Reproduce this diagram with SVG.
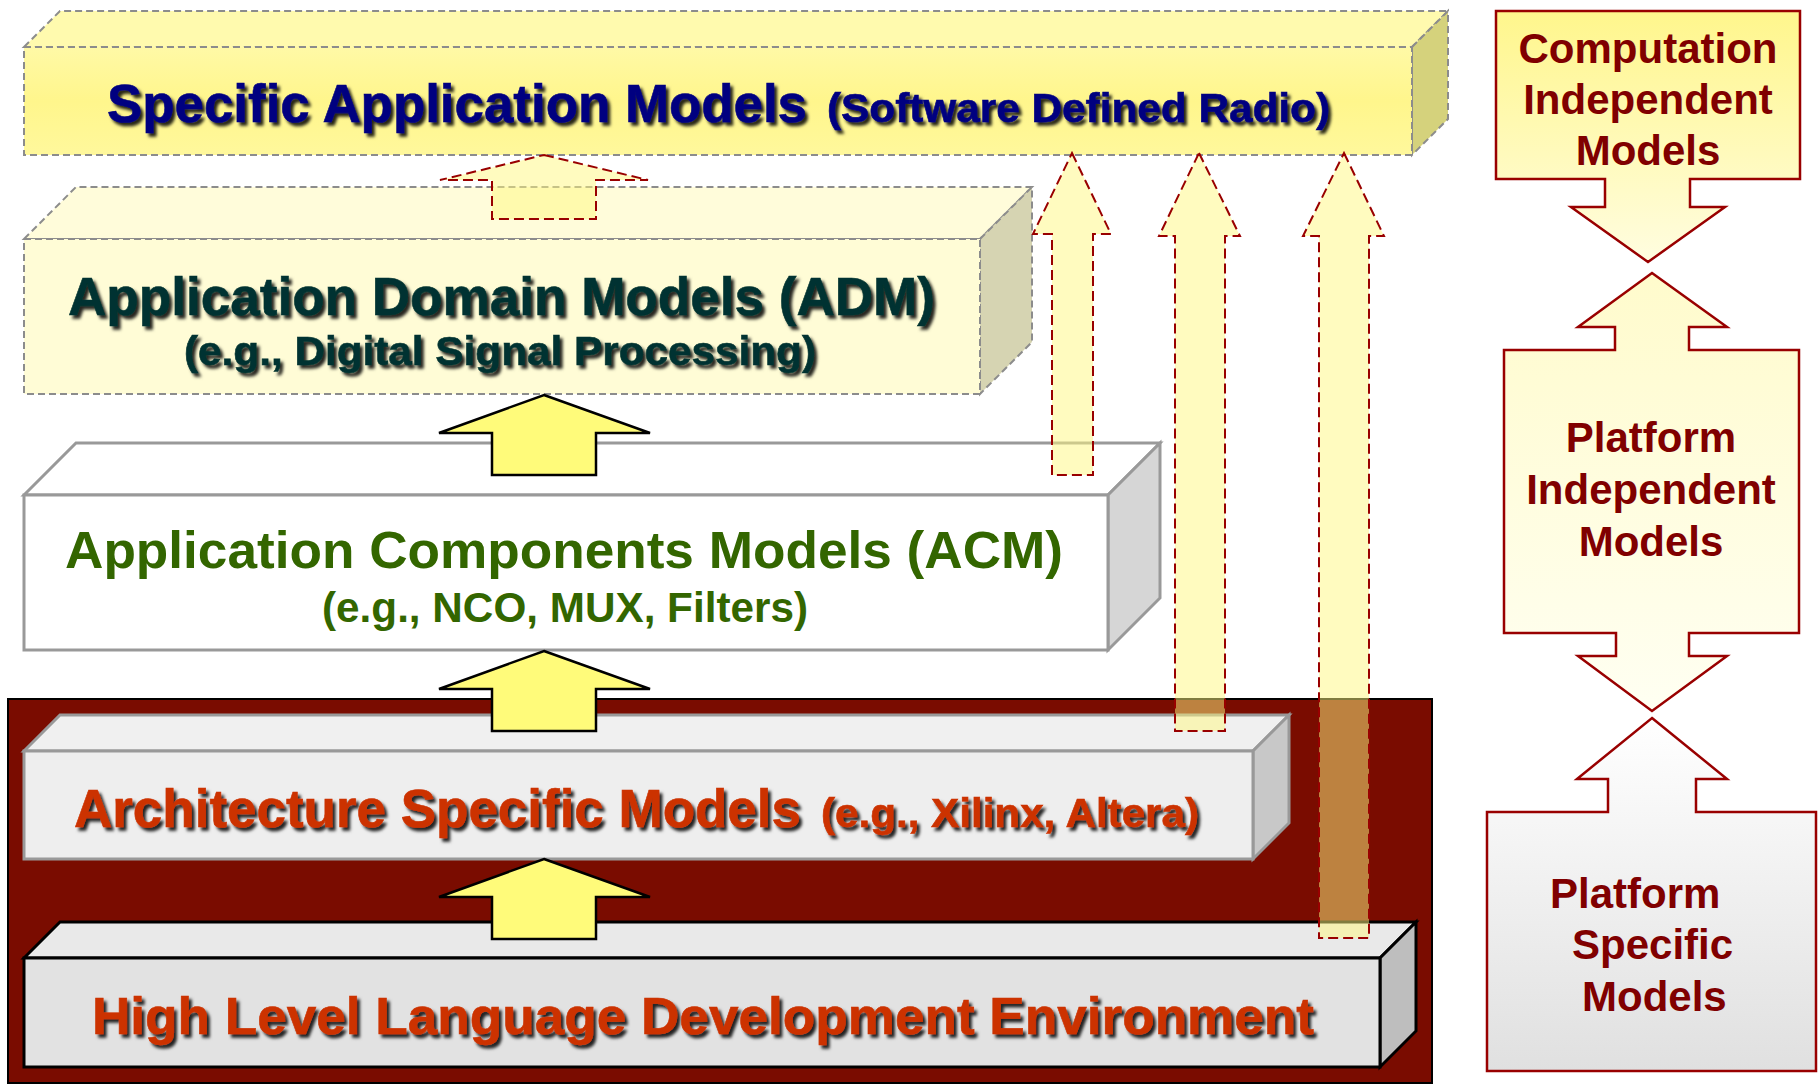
<svg xmlns="http://www.w3.org/2000/svg" width="1818" height="1086" viewBox="0 0 1818 1086">
  <defs>
    <style>
      text { font-family: "Liberation Sans", Arial, sans-serif; font-weight: bold; }
      .shadow { filter: url(#txtShadow); stroke-width: 0.6; }
      .dashgray { stroke: #8c8c8c; stroke-width: 2; stroke-dasharray: 7 4; }
      .solidgray { stroke: #999999; stroke-width: 3; stroke-linejoin: miter; }
      .solidblack { stroke: #000000; stroke-width: 3; }
      .up-solid { fill: #fffb7a; stroke: #000000; stroke-width: 2.5; stroke-linejoin: miter; }
      .up-dashed { fill: #fff880; fill-opacity: 0.5; stroke: #990000; stroke-width: 2; stroke-dasharray: 10 5; }
      .mda { stroke: #990000; stroke-width: 2.5; stroke-linejoin: miter; }
      .mda-text { fill: #800000; font-size: 42px; }
    </style>
    <filter id="txtShadow" x="-5%" y="-20%" width="110%" height="150%">
      <feDropShadow dx="3" dy="3.5" stdDeviation="1.4" flood-color="#000000" flood-opacity="0.85"/>
    </filter>
    <linearGradient id="gSamFront" x1="0" y1="0" x2="0" y2="1">
      <stop offset="0" stop-color="#fff9a6"/>
      <stop offset="0.5" stop-color="#fff68c"/>
      <stop offset="1" stop-color="#fff89c"/>
    </linearGradient>
    <linearGradient id="gCim" x1="0" y1="0" x2="0" y2="1">
      <stop offset="0" stop-color="#fff68c"/>
      <stop offset="1" stop-color="#fffde0"/>
    </linearGradient>
    <linearGradient id="gPim" x1="0" y1="0" x2="0" y2="1">
      <stop offset="0" stop-color="#fffbcc"/>
      <stop offset="1" stop-color="#fffff2"/>
    </linearGradient>
    <linearGradient id="gPsm" x1="0" y1="0" x2="0" y2="1">
      <stop offset="0" stop-color="#ffffff"/>
      <stop offset="1" stop-color="#e0e0e0"/>
    </linearGradient>
  </defs>

  <!-- Specific Application Models layer -->
  <g id="sam">
    <polygon points="24,47 60,11 1448,11 1412,47" fill="#fffaae" class="dashgray"/>
    <polygon points="1412,47 1448,11 1448,119 1412,155" fill="#d5d27c" class="dashgray"/>
    <rect x="24" y="47" width="1388" height="108" fill="url(#gSamFront)" class="dashgray"/>
    <text x="107" y="122" font-size="54" fill="#000080" stroke="#000080" class="shadow" textLength="700" lengthAdjust="spacingAndGlyphs">Specific Application Models</text>
    <text x="827" y="122" font-size="40" fill="#000080" stroke="#000080" class="shadow" textLength="503" lengthAdjust="spacingAndGlyphs">(Software Defined Radio)</text>
  </g>

  <!-- Application Domain Models layer -->
  <g id="adm">
    <polygon points="24,239 76,187 1032,187 980,239" fill="#fffcda" class="dashgray"/>
    <polygon points="980,239 1032,187 1032,342 980,394" fill="#d6d4b2" class="dashgray"/>
    <rect x="24" y="239" width="956" height="155" fill="#fffcd6" class="dashgray"/>
    <text x="68" y="315" font-size="54" fill="#003330" stroke="#003330" class="shadow" textLength="867" lengthAdjust="spacingAndGlyphs">Application Domain Models (ADM)</text>
    <text x="184" y="365" font-size="40" fill="#003330" stroke="#003330" class="shadow" textLength="632" lengthAdjust="spacingAndGlyphs">(e.g., Digital Signal Processing)</text>
  </g>

  <!-- Application Components Models layer -->
  <g id="acm">
    <polygon points="24,495 76,443 1160,443 1108,495" fill="#ffffff" class="solidgray"/>
    <polygon points="1108,495 1160,443 1160,598 1108,650" fill="#d6d6d6" class="solidgray"/>
    <rect x="24" y="495" width="1084" height="155" fill="#ffffff" class="solidgray"/>
    <text x="65" y="568" font-size="52" fill="#336600" textLength="998" lengthAdjust="spacingAndGlyphs">Application Components Models (ACM)</text>
    <text x="322" y="622" font-size="42" fill="#336600" textLength="486" lengthAdjust="spacingAndGlyphs">(e.g., NCO, MUX, Filters)</text>
  </g>

  <!-- hardware frame behind the two lowest layers -->
  <g id="hw-frame">
    <rect x="8" y="699" width="1424" height="384" fill="#7a0c00" stroke="#000000" stroke-width="2"/>
  </g>

  <!-- Architecture Specific Models layer -->
  <g id="asm">
    <polygon points="24,751 60,715 1289,715 1253,751" fill="#f0f0f0" class="solidgray"/>
    <polygon points="1253,751 1289,715 1289,823 1253,859" fill="#c8c8c8" class="solidgray"/>
    <rect x="24" y="751" width="1229" height="108" fill="#eeeeee" class="solidgray"/>
    <text x="74" y="827" font-size="53" fill="#cc3300" stroke="#cc3300" class="shadow" textLength="727" lengthAdjust="spacingAndGlyphs">Architecture Specific Models</text>
    <text x="821" y="827" font-size="40" fill="#cc3300" stroke="#cc3300" class="shadow" textLength="378" lengthAdjust="spacingAndGlyphs">(e.g., Xilinx, Altera)</text>
  </g>

  <!-- High Level Language Development Environment layer -->
  <g id="hll">
    <polygon points="24,958 60,922 1416,922 1380,958" fill="#e9e9e9" class="solidblack"/>
    <polygon points="1380,958 1416,922 1416,1031 1380,1067" fill="#bebebe" class="solidblack"/>
    <rect x="24" y="958" width="1356" height="109" fill="#e2e2e2" class="solidblack"/>
    <text x="92" y="1034" font-size="52" fill="#cc3300" stroke="#cc3300" class="shadow" textLength="1222" lengthAdjust="spacingAndGlyphs">High Level Language Development Environment</text>
  </g>

  <!-- MDA levels column -->
  <g id="cim">
    <polygon points="1496,11 1800,11 1800,179 1690,179 1690,207 1725,207 1648,262 1571,207 1605,207 1605,179 1496,179" fill="url(#gCim)" class="mda"/>
    <text x="1648" y="63" text-anchor="middle" class="mda-text">Computation</text>
    <text x="1648" y="114" text-anchor="middle" class="mda-text">Independent</text>
    <text x="1648" y="165" text-anchor="middle" class="mda-text">Models</text>
  </g>
  <g id="pim">
    <polygon points="1652,273 1727,327 1689,327 1689,350 1799,350 1799,633 1689,633 1689,656 1727,656 1652,711 1578,656 1616,656 1616,633 1504,633 1504,350 1615,350 1615,327 1578,327" fill="url(#gPim)" class="mda"/>
    <text x="1651" y="452" text-anchor="middle" class="mda-text">Platform</text>
    <text x="1651" y="504" text-anchor="middle" class="mda-text">Independent</text>
    <text x="1651" y="556" text-anchor="middle" class="mda-text">Models</text>
  </g>
  <g id="psm">
    <polygon points="1652,718 1727,779 1696,779 1696,812 1816,812 1816,1071 1487,1071 1487,812 1608,812 1608,779 1577,779" fill="url(#gPsm)" class="mda"/>
    <text x="1550" y="908" class="mda-text">Platform</text>
    <text x="1572" y="959" class="mda-text">Specific</text>
    <text x="1582" y="1011" class="mda-text">Models</text>
  </g>

  <!-- refinement arrows between layers -->
  <g id="connectors">
    <polygon points="544,395 650,433 596,433 596,475 492,475 492,433 439,433" class="up-solid"/>
    <polygon points="544,651 650,689 596,689 596,731 492,731 492,689 439,689" class="up-solid"/>
    <polygon points="544,859 650,897 596,897 596,939 492,939 492,897 439,897" class="up-solid"/>
    <polygon points="544,155 648,180 596,180 596,219 492,219 492,180 440,180" class="up-dashed"/>
    <polygon points="1072,153 1111,234 1093,234 1093,475 1052,475 1052,234 1033,234" class="up-dashed"/>
    <polygon points="1199,153 1240,236 1225,236 1225,731 1175,731 1175,236 1159,236" class="up-dashed"/>
    <polygon points="1344,153 1384,236 1369,236 1369,938 1319,938 1319,236 1303,236" class="up-dashed"/>
  </g>
</svg>
